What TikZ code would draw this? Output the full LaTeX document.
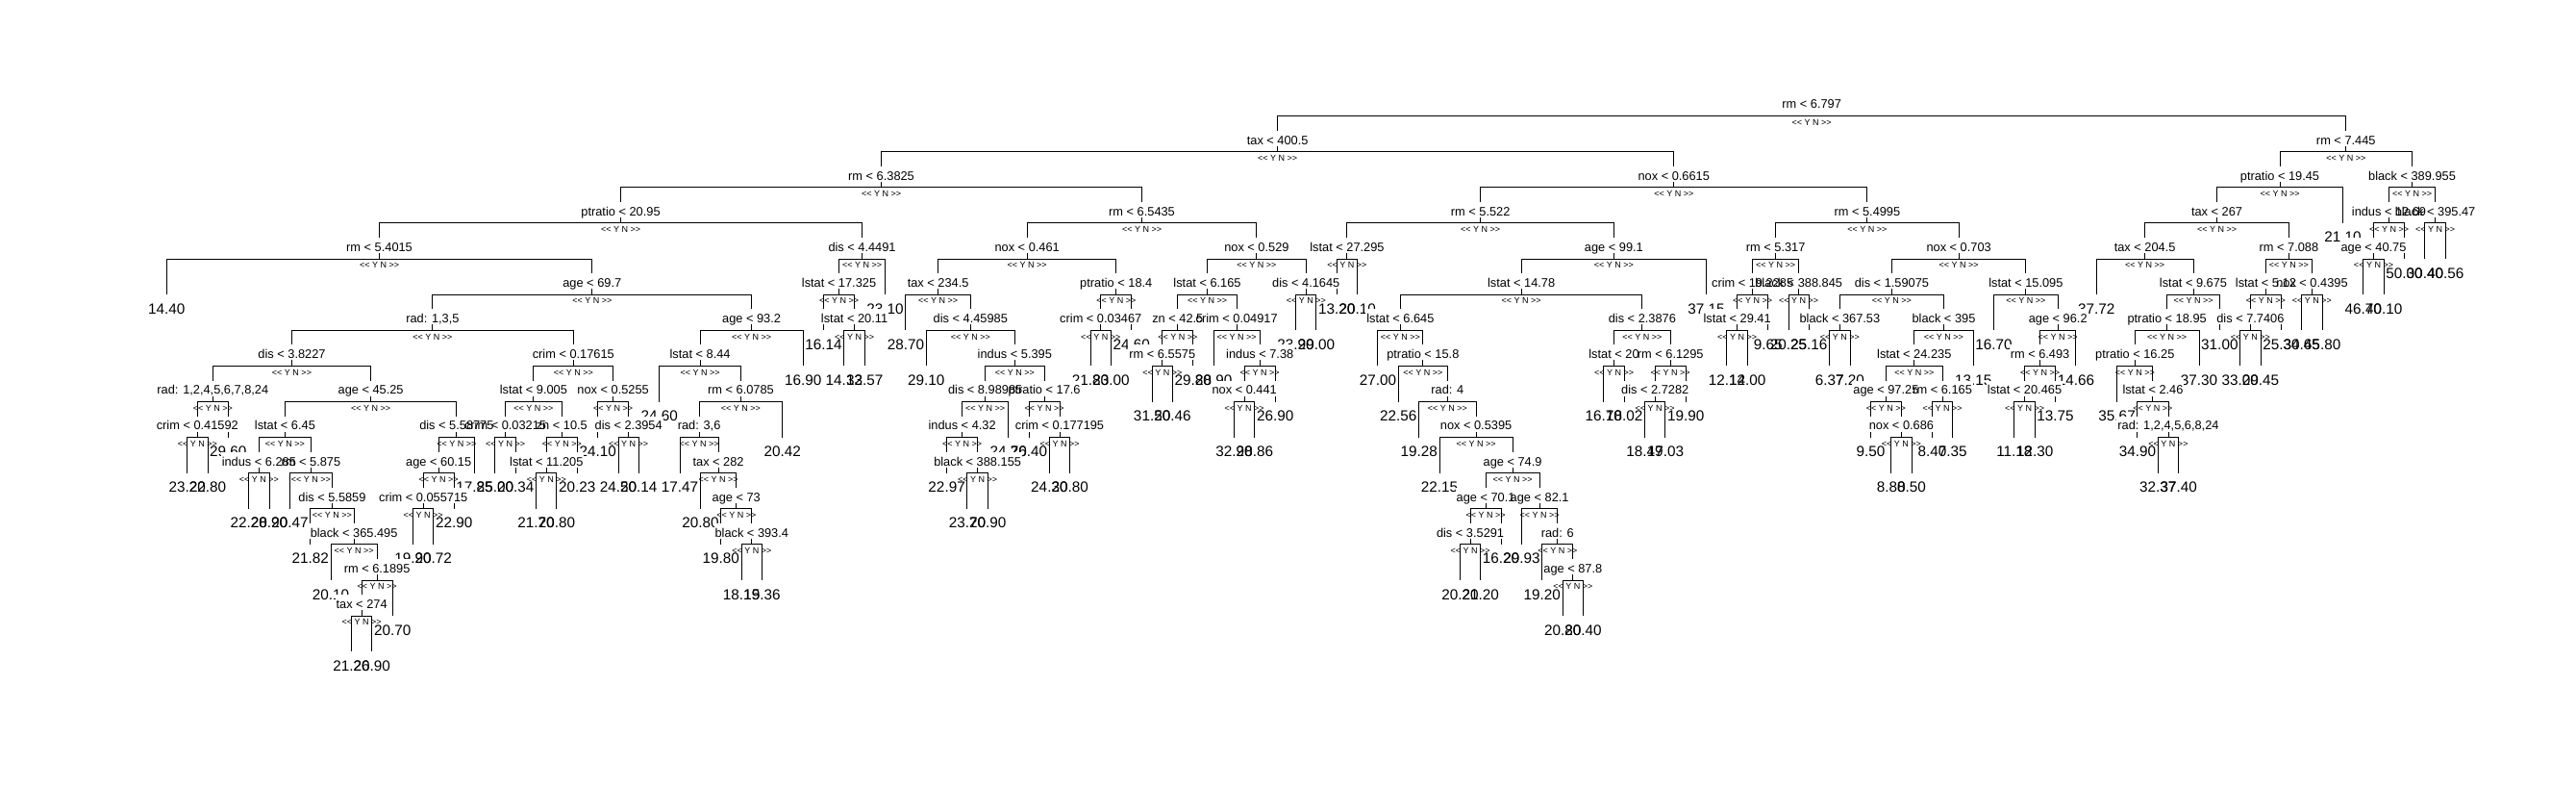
\documentclass[tikz,border=0pt]{standalone}
\usepackage{fontspec}
\setmainfont{Liberation Sans}

% leaves: index / depth / mean value
\def\leafdata{0/5/14.40, 1/10/23.20, 2/10/22.80, 3/9/29.60, 4/11/22.20, 5/11/28.90,
  6/11/20.47, 7/12/21.82, 8/13/20.10, 9/15/21.20, 10/15/26.90, 11/14/20.70,
  12/12/19.90, 13/12/20.72, 14/11/22.90, 15/10/17.85, 16/10/25.00, 17/10/20.34,
  18/11/21.70, 19/11/20.80, 20/10/20.23, 21/9/24.10, 22/10/24.50, 23/10/20.14,
  24/8/24.60, 25/10/17.47, 26/11/20.80, 27/12/19.80, 28/13/18.15, 29/13/19.36,
  30/9/20.42, 31/7/16.90, 32/6/16.14, 33/7/14.33, 34/7/12.57, 35/5/23.10,
  36/6/28.70, 37/7/29.10, 38/10/22.97, 39/11/23.70, 40/11/20.90, 41/9/24.70,
  42/9/26.40, 43/10/24.30, 44/10/20.80, 45/7/21.80, 46/7/23.00, 47/6/24.60,
  48/8/31.50, 49/8/20.46, 50/7/29.80, 51/7/28.90, 52/9/32.90, 53/9/28.86,
  54/8/26.90, 55/6/23.90, 56/6/29.00, 57/5/13.20, 58/5/20.10, 59/7/27.00,
  60/8/22.56, 61/9/19.28, 62/10/22.15, 63/13/20.20, 64/13/21.20, 65/12/16.20,
  66/12/29.93, 67/13/19.20, 68/14/20.80, 69/14/20.40, 70/8/16.70, 71/8/18.02,
  72/9/18.49, 73/9/17.03, 74/8/19.90, 75/5/37.15, 76/7/12.12, 77/7/14.00,
  78/6/9.65, 79/6/20.25, 80/6/25.16, 81/7/6.37, 82/7/7.20, 83/9/9.50,
  84/10/8.80, 85/10/8.50, 86/9/8.40, 87/9/7.35, 88/7/13.15, 89/6/16.70,
  90/9/11.18, 91/9/12.30, 92/8/13.75, 93/7/14.66, 94/5/37.72, 95/8/35.67,
  96/9/34.90, 97/10/32.37, 98/10/37.40, 99/7/37.30, 100/6/31.00, 101/7/33.00,
  102/7/29.45, 103/6/25.30, 104/6/34.65, 105/6/45.80, 106/3/21.10, 107/5/46.70,
  108/5/40.10, 109/4/50.00, 110/4/30.40, 111/4/40.56}

% splits: name / x / depth / yes child / no child / rule
\def\splitdata{s93/80.134/0/s56/s106/{rm < 6.797},
  s56/54.114/1/s35/s75/{tax < 400.5}, s106/106.154/1/s105/s109/{rm < 7.445},
  s35/34.811/2/s31/s47/{rm < 6.3825}, s75/73.416/2/s58/s80/{nox < 0.6615},
  s105/102.934/2/s100/l106/{ptratio < 19.45}, s109/109.375/2/s108/s110/{black < 389.955},
  s31/22.118/3/s0/s34/{ptratio < 20.95}, s47/47.504/3/s44/s54/{rm < 6.5435},
  s58/63.997/3/s57/s74/{rm < 5.522}, s80/82.836/3/s78/s88/{rm < 5.4995},
  s100/99.867/3/s94/s103/{tax < 267}, s108/108.25/3/s107/l109/{indus < 12.69},
  s110/110.5/3/l110/l111/{black < 395.47},
  s0/10.362/4/l0/s23/{rm < 5.4015}, s34/33.875/4/s32/l35/{dis < 4.4491},
  s44/41.914/4/s36/s46/{nox < 0.461}, s54/53.094/4/s50/s55/{nox < 0.529},
  s57/57.5/4/l57/l58/{lstat < 27.295}, s74/70.493/4/s69/l75/{age < 99.1},
  s78/78.375/4/s77/s79/{rm < 5.317}, s88/87.297/4/s82/s89/{nox < 0.703},
  s94/96.359/4/l94/s99/{tax < 204.5}, s103/103.375/4/s102/s104/{rm < 7.088},
  s107/107.5/4/l107/l108/{age < 40.75},
  s23/20.724/5/s15/s30/{age < 69.7}, s32/32.75/5/l32/s33/{lstat < 17.325},
  s36/37.578/5/l36/s37/{tax < 234.5}, s46/46.25/5/s45/l47/{ptratio < 18.4},
  s50/50.688/5/s49/s51/{lstat < 6.165}, s55/55.5/5/l55/l56/{dis < 4.1645},
  s69/65.986/5/s59/s71/{lstat < 14.78}, s77/77.25/5/s76/l78/{crim < 19.2285},
  s79/79.5/5/l79/l80/{black < 388.845}, s82/84.031/5/s81/s87/{dis < 1.59075},
  s89/90.5625/5/l89/s92/{lstat < 15.095}, s99/98.719/5/s98/l100/{lstat < 9.675},
  s102/102.25/5/s101/l103/{lstat < 5.12}, s104/104.5/5/l104/l105/{nox < 0.4395},
  s15/12.955/6/s3/s20/{rad: 1,3,5}, s30/28.492/6/s24/l31/{age < 93.2},
  s33/33.5/6/l33/l34/{lstat < 20.11}, s37/39.156/6/l37/s41/{dis < 4.45985},
  s45/45.5/6/l45/l46/{crim < 0.03467}, s49/49.25/6/s48/l50/{zn < 42.5},
  s51/52.125/6/l51/s53/{crim < 0.04917}, s59/60.098/6/l59/s60/{lstat < 6.645},
  s71/71.875/6/s70/s73/{dis < 2.3876}, s76/76.5/6/l76/l77/{lstat < 29.41},
  s81/81.5/6/l81/l82/{black < 367.53}, s87/86.5625/6/s85/l88/{black < 395},
  s92/92.125/6/s91/l93/{age < 96.2}, s98/97.4375/6/s95/l99/{ptratio < 18.95},
  s101/101.5/6/l101/l102/{dis < 7.7406},
  s3/6.098/7/s2/s11/{dis < 3.8227}, s20/19.8125/7/s17/s21/{crim < 0.17615},
  s24/25.984/7/l24/s29/{lstat < 8.44}, s41/41.3125/7/s40/s42/{indus < 5.395},
  s48/48.5/7/l48/l49/{rm < 6.5575}, s53/53.25/7/s52/l54/{indus < 7.38},
  s60/61.195/7/l60/s61/{ptratio < 15.8}, s70/70.5/7/l70/l71/{lstat < 20},
  s73/73.25/7/s72/l74/{rm < 6.1295}, s85/85.125/7/s83/s86/{lstat < 24.235},
  s91/91.25/7/s90/l92/{rm < 6.493}, s95/95.875/7/l95/s96/{ptratio < 16.25},
  s2/2.25/8/s1/l3/{rad: 1,2,4,5,6,7,8,24}, s11/9.945/8/s5/s14/{age < 45.25},
  s17/17.875/8/s16/s19/{lstat < 9.005}, s21/21.75/8/l21/s22/{nox < 0.5255},
  s29/27.969/8/s25/l30/{rm < 6.0785}, s40/39.875/8/s38/l41/{dis < 8.98985},
  s42/42.75/8/l42/s43/{ptratio < 17.6}, s52/52.5/8/l52/l53/{nox < 0.441},
  s61/62.391/8/l61/s62/{rad: 4}, s72/72.5/8/l72/l73/{dis < 2.7282},
  s83/83.75/8/l83/s84/{age < 97.25}, s86/86.5/8/l86/l87/{rm < 6.165},
  s90/90.5/8/l90/l91/{lstat < 20.465}, s96/96.75/8/l96/s97/{lstat < 2.46},
  s1/1.5/9/l1/l2/{crim < 0.41592}, s5/5.766/9/s4/s6/{lstat < 6.45},
  s14/14.125/9/s13/l15/{dis < 5.58775}, s16/16.5/9/l16/l17/{crim < 0.03215},
  s19/19.25/9/s18/l20/{zn < 10.5}, s22/22.5/9/l22/l23/{dis < 2.3954},
  s25/25.9375/9/l25/s26/{rad: 3,6}, s38/38.75/9/l38/s39/{indus < 4.32},
  s43/43.5/9/l43/l44/{crim < 0.177195}, s62/63.781/9/l62/s65/{nox < 0.5395},
  s84/84.5/9/l84/l85/{nox < 0.686}, s97/97.5/9/l97/l98/{rad: 1,2,4,5,6,8,24},
  s4/4.5/10/l4/l5/{indus < 6.285}, s6/7.031/10/l6/s7/{rm < 5.875},
  s13/13.25/10/s12/l14/{age < 60.15}, s18/18.5/10/l18/l19/{lstat < 11.205},
  s26/26.875/10/l26/s27/{tax < 282}, s39/39.5/10/l39/l40/{black < 388.155},
  s65/65.5625/10/s64/s66/{age < 74.9},
  s7/8.0625/11/l7/s8/{dis < 5.5859}, s12/12.5/11/l12/l13/{crim < 0.055715},
  s27/27.75/11/l27/s28/{age < 73}, s64/64.25/11/s63/l65/{age < 70.1},
  s66/66.875/11/l66/s67/{age < 82.1},
  s8/9.125/12/l8/s10/{black < 365.495}, s28/28.5/12/l28/l29/{black < 393.4},
  s63/63.5/12/l63/l64/{dis < 3.5291}, s67/67.75/12/l67/s68/{rad: 6},
  s10/10.25/13/s9/l11/{rm < 6.1895}, s68/68.5/13/l68/l69/{age < 87.8},
  s9/9.5/14/l9/l10/{tax < 274}}

\begin{document}
\begin{tikzpicture}[x=21.35pt, y=-37.1pt,
  edge/.style={line width=1pt},
  split/.style={font=\fontsize{12.8}{14}\selectfont, anchor=base, yshift=7.7pt, inner sep=0pt},
  splitbox/.style={split, fill=white, text opacity=0, inner xsep=1pt, inner ysep=1.7pt,
    text height=12.6pt, text depth=0pt},
  leaf/.style={font=\fontsize{15.3}{17}\selectfont, anchor=base, yshift=-20pt, inner sep=0pt},
  yn/.style={font=\fontsize{9}{10}\selectfont, anchor=base, yshift=-9.7pt, inner sep=0pt}]

\useasboundingbox (-8.117,-3.253) rectangle (117.36,18.795);

% Node positions: leaves evenly spaced, one level per depth
\foreach \lk/\ld/\lv in \leafdata {\coordinate (l\lk) at (\lk,\ld);}
\foreach \nm/\xx/\dd/\lc/\rc/\tx in \splitdata {\coordinate (\nm) at (\xx,\dd);}

% Branches
\foreach \nm/\xx/\dd/\lc/\rc/\tx in \splitdata {
  \draw[edge] (\nm) -| (\lc);
  \draw[edge] (\nm) -| (\rc);
}

% Leaf values
\foreach \lk/\ld/\lv in \leafdata {\node[leaf] (l\lk t) at (l\lk) {\lv};}

% Split rules (white patch first, then the text)
\foreach \nm/\xx/\dd/\lc/\rc/\tx in \splitdata {\node[splitbox] (\nm b) at (\nm) {\tx};}
\foreach \nm/\xx/\dd/\lc/\rc/\tx in \splitdata {\node[split] (\nm t) at (\nm) {\tx};}

% Yes / No marks under every split
\foreach \k in {0,...,110} {\node[yn] (s\k yn) at (s\k) {<\kern0pt< Y N >\kern0pt>};}

\end{tikzpicture}
\end{document}
